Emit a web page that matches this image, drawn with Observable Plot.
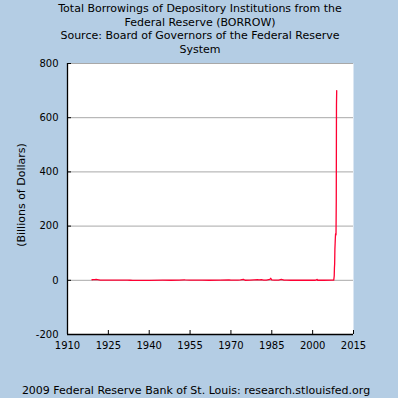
<!DOCTYPE html>
<html><head><meta charset="utf-8">
<script src="https://cdn.jsdelivr.net/npm/d3@7"></script>
<script src="https://cdn.jsdelivr.net/npm/@observablehq/plot@0.6"></script>
<style>
html,body{margin:0;padding:0;background:#b4cde4;}
#wrap{position:relative;width:398px;height:398px;overflow:hidden;font-family:"DejaVu Sans",sans-serif;color:#000;}
#title{position:absolute;left:0;top:2px;width:400px;text-align:center;font-size:11px;line-height:13.5px;}
#caption{position:absolute;left:-3px;top:384px;width:398px;text-align:center;font-size:11px;line-height:13px;white-space:nowrap;}
#ylabel{position:absolute;left:21px;top:195px;transform:translate(-50%,-50%) rotate(-90deg);font-size:11px;white-space:nowrap;}
#chart{position:absolute;left:0;top:0;}
</style></head><body>
<div id="wrap"><div id="chart"></div><div id="title"></div><div id="ylabel"></div><div id="caption"></div></div>
<script>
const titleLines = [
  "Total Borrowings of Depository Institutions from the",
  "Federal Reserve (BORROW)",
  "Source: Board of Governors of the Federal Reserve",
  "System"
];
const yLabel = "(Billions of Dollars)";
const caption = "2009 Federal Reserve Bank of St. Louis: research.stlouisfed.org";

const xTicks = [1910, 1925, 1940, 1955, 1970, 1985, 2000, 2015];
const yTicks = [-200, 0, 200, 400, 600, 800];

// observation dates (decimal years) and values (billions of dollars)
const dates = [
  1919.0, 1919.5, 1920.0, 1920.5, 1921.0, 1921.5, 1922.0, 1923.0, 1924.0, 1925.0,
  1926.0, 1927.0, 1928.0, 1929.0, 1930.0, 1931.0, 1932.0, 1933.0, 1934.0, 1940.0,
  1945.0, 1948.0, 1951.0, 1952.8, 1953.2, 1955.0, 1957.0, 1959.5, 1962.0, 1966.0,
  1969.3, 1970.0, 1972.6, 1973.5, 1974.6, 1975.2, 1977.0, 1978.5, 1979.8, 1980.3,
  1981.2, 1982.0, 1983.0, 1984.3, 1984.6, 1985.0, 1986.0, 1987.5, 1988.5, 1989.5,
  1990.5, 1992.0, 1995.0, 1998.0, 2001.0, 2001.7, 2001.8, 2004.0, 2007.0, 2007.75,
  2007.92, 2008.0, 2008.08, 2008.17, 2008.25, 2008.33, 2008.42, 2008.5, 2008.58, 2008.67,
  2008.75, 2008.83
];
const values = [
  2.1, 2.3, 2.6, 2.9, 2.2, 1.5, 0.6, 0.8, 0.4, 0.5,
  0.6, 0.5, 0.9, 0.9, 0.3, 0.3, 0.5, 0.2, 0.0, 0.0,
  0.3, 0.2, 0.3, 1.4, 1.2, 0.8, 0.9, 0.9, 0.1, 0.6,
  1.4, 0.8, 1.0, 1.8, 3.3, 0.1, 0.5, 1.2, 2.0, 1.6,
  2.2, 0.7, 1.0, 3.5, 7.5, 1.3, 0.8, 0.8, 3.0, 0.9,
  0.3, 0.1, 0.2, 0.1, 0.1, 3.3, 0.1, 0.1, 0.3, 0.5,
  16, 46, 60, 115, 135, 155, 172, 171, 168, 290,
  648, 700
];

const data = dates.map((d, i) => ({date: d, value: values[i]}));

document.getElementById("title").innerHTML = titleLines.join("<br>");
document.getElementById("ylabel").textContent = yLabel;
document.getElementById("caption").textContent = caption;

const W = 398, H = 398, mL = 67, mR = 45, mT = 63, mB = 64;
const plotW = W - mL - mR, plotH = H - mT - mB;

const chart = Plot.plot({
  width: W, height: H,
  marginLeft: mL, marginRight: mR, marginTop: mT, marginBottom: mB,
  style: {background: "transparent", fontFamily: "DejaVu Sans, sans-serif", color: "black", overflow: "visible"},
  x: {domain: [xTicks[0], xTicks[xTicks.length - 1]]},
  y: {domain: [yTicks[0], yTicks[yTicks.length - 1]]},
  marks: [
    Plot.frame({fill: "white"}),
    Plot.ruleY(yTicks.slice(1), {stroke: "#a8a8a8", strokeWidth: 1}),
    Plot.tickY(yTicks, {y: d => d, stroke: "black", insetRight: plotW - 4}),
    Plot.tickX(xTicks, {x: d => d, stroke: "black", insetTop: plotH - 4}),
    Plot.ruleX([xTicks[0]], {stroke: "black", strokeWidth: 1.3}),
    Plot.ruleY([yTicks[0]], {stroke: "black", strokeWidth: 1.3}),
    Plot.axisX(xTicks, {tickSize: 0, tickPadding: 7, fontSize: 10, label: null, tickFormat: d => String(d)}),
    Plot.axisY(yTicks, {tickSize: 0, tickPadding: 9, fontSize: 10, label: null, tickFormat: d => String(d)}),
    Plot.line(data, {x: "date", y: "value", stroke: "#ff0033", strokeWidth: 1.3})
  ]
});
document.getElementById("chart").appendChild(chart);
</script>
</body></html>
